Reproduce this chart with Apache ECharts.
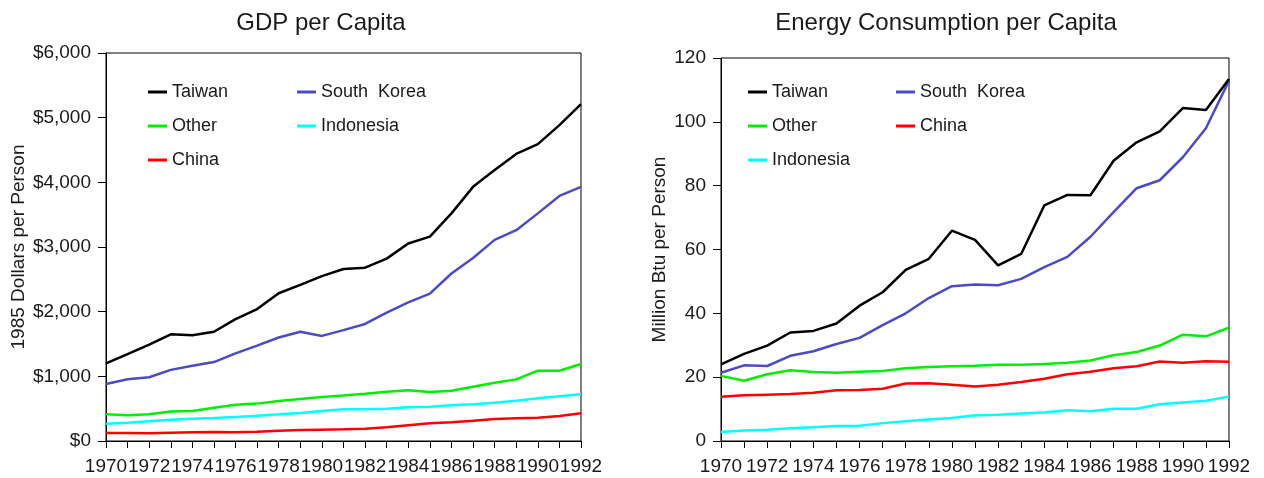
<!DOCTYPE html>
<html>
<head>
<meta charset="utf-8">
<script src="https://cdn.jsdelivr.net/npm/echarts@6/dist/echarts.min.js"></script>
<style>
html,body{margin:0;padding:0;background:#fff;}
#c{width:1264px;height:478px;}
</style>
</head>
<body>
<div id="c"></div>
<script>
var years = ['1970','1971','1972','1973','1974','1975','1976','1977','1978','1979','1980','1981','1982','1983','1984','1985','1986','1987','1988','1989','1990','1991','1992'];

// GDP per capita (1985 dollars per person)
var gdpTaiwan     = [1200,1345,1490,1650,1635,1690,1885,2040,2285,2415,2550,2660,2680,2820,3055,3160,3520,3930,4190,4440,4590,4885,5210];
var gdpSouthKorea = [880,955,985,1100,1165,1220,1355,1475,1600,1690,1625,1715,1810,1985,2145,2280,2590,2830,3110,3260,3520,3790,3930];
var gdpOther      = [415,400,415,455,465,515,560,578,620,650,680,705,730,762,783,757,778,840,902,953,1087,1087,1190];
var gdpIndonesia  = [268,283,304,330,345,356,371,392,412,433,464,490,490,500,521,531,552,567,592,623,660,691,722];
var gdpChina      = [124,124,119,129,134,139,134,144,160,170,175,180,191,211,242,273,289,314,340,350,360,386,428];

// Energy consumption per capita (million Btu per person)
var enTaiwan     = [24.0,27.3,29.9,34.0,34.5,36.8,42.4,46.6,53.6,57.1,65.9,63.0,55.0,58.6,73.8,77.1,77.0,87.8,93.6,97.0,104.3,103.7,113.4];
var enSouthKorea = [21.4,23.7,23.5,26.7,28.1,30.4,32.3,36.3,40.0,44.8,48.5,49.0,48.8,50.8,54.5,57.7,64.0,71.7,79.2,81.7,88.9,98.0,112.9];
var enOther      = [20.4,18.9,20.9,22.2,21.6,21.4,21.7,21.9,22.8,23.2,23.4,23.6,23.9,23.9,24.1,24.5,25.2,26.9,27.9,29.9,33.3,32.8,35.5];
var enChina      = [13.9,14.3,14.5,14.7,15.1,15.9,16.0,16.4,18.0,18.1,17.6,17.1,17.6,18.5,19.5,20.9,21.7,22.8,23.4,24.9,24.5,25.0,24.8];
var enIndonesia  = [2.8,3.3,3.5,4.0,4.3,4.7,4.8,5.6,6.2,6.7,7.2,8.1,8.2,8.6,8.9,9.6,9.3,10.1,10.1,11.5,12.1,12.6,13.9];

var titles = ['GDP per Capita', 'Energy Consumption per Capita'];
var yNames = ['1985 Dollars per Person', 'Million Btu per Person'];

var colors = {
  'Taiwan': '#000000',
  'South Korea': '#4b4bc6',
  'Other': '#00ee00',
  'Indonesia': '#00ffff',
  'China': '#ff0000'
};

var FONT = 'Liberation Sans, Arial, sans-serif';
var TXT = '#1a1a1a';

function fmtDollar(v){
  return '$' + String(v).replace(/\B(?=(\d{3})+(?!\d))/g, ',');
}

function mkSeries(name, data, gi){
  return {
    type: 'line', name: name, data: data,
    xAxisIndex: gi, yAxisIndex: gi,
    showSymbol: false, symbol: 'none',
    lineStyle: { width: 2.5, color: colors[name] },
    itemStyle: { color: colors[name] },
    animation: false
  };
}

function mkLegend(names, left, top){
  return {
    data: names.map(function(n){ return { name: n, icon: 'rect', itemStyle: { color: colors[n] } }; }),
    orient: 'vertical', left: left, top: top,
    padding: 0, itemGap: 14, itemWidth: 19, itemHeight: 3,
    selectedMode: false,
    formatter: function(n){ return n === 'South Korea' ? 'South  Korea' : n; },
    textStyle: { fontFamily: FONT, fontSize: 18, color: TXT, lineHeight: 20, padding: [0,0,0,0] }
  };
}

function xAxis(gi){
  return {
    type: 'category', gridIndex: gi, data: years, boundaryGap: false,
    axisLine: { lineStyle: { color: '#000', width: 1 } },
    axisTick: { show: true, interval: 0, length: 7, lineStyle: { color: '#000' } },
    axisLabel: { interval: 1, fontFamily: FONT, fontSize: 19, color: TXT, margin: 16 },
    splitLine: { show: false }
  };
}

function yAxis(gi, max, interval, formatter, nameGap){
  return {
    type: 'value', gridIndex: gi, min: 0, max: max, interval: interval,
    name: yNames[gi], nameLocation: 'middle', nameGap: nameGap, nameRotate: 90,
    nameTextStyle: { fontFamily: FONT, fontSize: 19, color: TXT },
    axisLine: { show: true, lineStyle: { color: '#000', width: 1 } },
    axisTick: { show: true, length: 8, lineStyle: { color: '#000' } },
    axisLabel: { fontFamily: FONT, fontSize: 19, color: TXT, margin: 15, formatter: formatter },
    splitLine: { show: false }
  };
}

var chart = echarts.init(document.getElementById('c'), null, { renderer: 'canvas' });
chart.setOption({
  backgroundColor: '#ffffff',
  animation: false,
  title: [
    { text: titles[0], left: 316, top: 6, textAlign: 'center',
      textStyle: { fontFamily: FONT, fontSize: 24, fontWeight: 'normal', color: TXT } },
    { text: titles[1], left: 941, top: 6, textAlign: 'center',
      textStyle: { fontFamily: FONT, fontSize: 24, fontWeight: 'normal', color: TXT } }
  ],
  legend: [
    mkLegend(['Taiwan','Other','China'], 148, 82),
    mkLegend(['South Korea','Indonesia'], 297, 82),
    mkLegend(['Taiwan','Other','Indonesia'], 748, 82),
    mkLegend(['South Korea','China'], 896, 82)
  ],
  grid: [
    { left: 106, right: 683, top: 53, bottom: 37, show: true, borderColor: '#000', borderWidth: 1, backgroundColor: 'transparent' },
    { left: 721, right: 35, top: 58, bottom: 37, show: true, borderColor: '#000', borderWidth: 1, backgroundColor: 'transparent' }
  ],
  xAxis: [xAxis(0), xAxis(1)],
  yAxis: [
    yAxis(0, 6000, 1000, fmtDollar, 78),
    yAxis(1, 120, 20, null, 52)
  ],
  series: [
    mkSeries('China', gdpChina, 0),
    mkSeries('Indonesia', gdpIndonesia, 0),
    mkSeries('Other', gdpOther, 0),
    mkSeries('South Korea', gdpSouthKorea, 0),
    mkSeries('Taiwan', gdpTaiwan, 0),
    mkSeries('Indonesia', enIndonesia, 1),
    mkSeries('China', enChina, 1),
    mkSeries('Other', enOther, 1),
    mkSeries('South Korea', enSouthKorea, 1),
    mkSeries('Taiwan', enTaiwan, 1)
  ]
});
</script>
</body>
</html>
